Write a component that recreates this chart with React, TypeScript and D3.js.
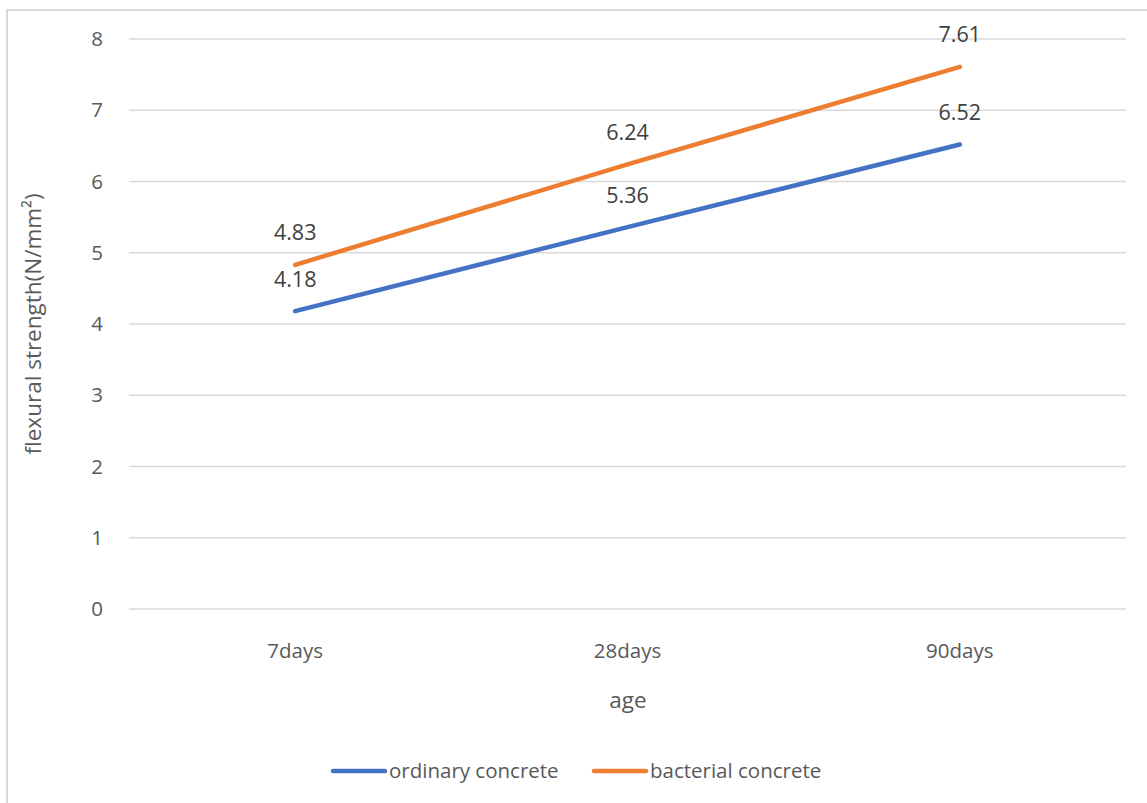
import React from "react";
import * as d3 from "d3";

const categories = ["7days", "28days", "90days"];
const ordinary = [4.18, 5.36, 6.52];
const bacterial = [4.83, 6.24, 7.61];
const yTicks = [0, 1, 2, 3, 4, 5, 6, 7, 8];
const seriesNames = ["ordinary concrete", "bacterial concrete"];
const seriesColors = ["#4472C4", "#ED7D31"];

const W = 1147;
const H = 803;
const plot = { left: 129, right: 1126, top: 39, bottom: 609 };
const FONT = "'Open Sans', 'Noto Sans', sans-serif";

export default function App() {
  const x = d3
    .scaleBand<string>()
    .domain(categories)
    .range([plot.left, plot.right])
    .paddingInner(0)
    .paddingOuter(0);
  const y = d3.scaleLinear().domain([0, 8]).range([plot.bottom, plot.top]);
  const cx = (c: string) => (x(c) as number) + x.bandwidth() / 2;

  const line = d3
    .line<number>()
    .x((_, i) => cx(categories[i]))
    .y((v) => y(v));

  const series = [ordinary, bacterial];

  return (
    <svg
      width={W}
      height={H}
      style={{ position: "absolute", left: 0, top: 0, background: "#fff" }}
      fontFamily={FONT}
    >
      <rect x={0} y={0} width={W} height={H} fill="#fff" />
      <rect
        x={7}
        y={10}
        width={W + 40}
        height={H + 40}
        fill="#fff"
        stroke="#d9d9d9"
        strokeWidth={2}
      />
      {/* gridlines */}
      {yTicks.map((t) => (
        <line
          key={t}
          x1={plot.left}
          x2={plot.right}
          y1={y(t)}
          y2={y(t)}
          stroke="#d9d9d9"
          strokeWidth={1.3}
        />
      ))}
      {/* y tick labels */}
      {yTicks.map((t) => (
        <text
          key={"yl" + t}
          x={103}
          y={y(t)}
          dy="0.35em"
          textAnchor="end"
          fontSize={20.5}
          fill="#595959"
        >
          {t}
        </text>
      ))}
      {/* x tick labels */}
      {categories.map((c) => (
        <text
          key={c}
          x={cx(c)}
          y={651}
          dy="0.35em"
          textAnchor="middle"
          fontSize={20.5}
          fill="#595959"
        >
          {c}
        </text>
      ))}
      {/* axis titles */}
      <text
        x={628}
        y={700}
        dy="0.35em"
        textAnchor="middle"
        fontSize={22.5}
        fill="#595959"
      >
        age
      </text>
      <text
        transform={`translate(33,${(plot.top + plot.bottom) / 2}) rotate(-90)`}
        dy="0.35em"
        textAnchor="middle"
        fontSize={22.5}
        fill="#595959"
      >
        flexural strength(N/mm²)
      </text>
      {/* series lines */}
      {series.map((s, i) => (
        <path
          key={"s" + i}
          d={line(s) as string}
          fill="none"
          stroke={seriesColors[i]}
          strokeWidth={4.5}
          strokeLinecap="round"
        />
      ))}
      {/* data labels */}
      {series.map((s, i) =>
        s.map((v, j) => (
          <text
            key={`dl${i}-${j}`}
            x={cx(categories[j])}
            y={y(v) - 32}
            dy="0.35em"
            textAnchor="middle"
            fontSize={21.5}
            fill="#404040"
          >
            {v.toFixed(2)}
          </text>
        ))
      )}
      {/* legend */}
      {seriesNames.map((n, i) => {
        const lx = i === 0 ? 333 : 594;
        return (
          <g key={n}>
            <line
              x1={lx}
              x2={lx + 52}
              y1={771}
              y2={771}
              stroke={seriesColors[i]}
              strokeWidth={4.5}
              strokeLinecap="round"
            />
            <text
              x={lx + 56}
              y={771}
              dy="0.35em"
              fontSize={20.5}
              fill="#595959"
            >
              {n}
            </text>
          </g>
        );
      })}
    </svg>
  );
}
